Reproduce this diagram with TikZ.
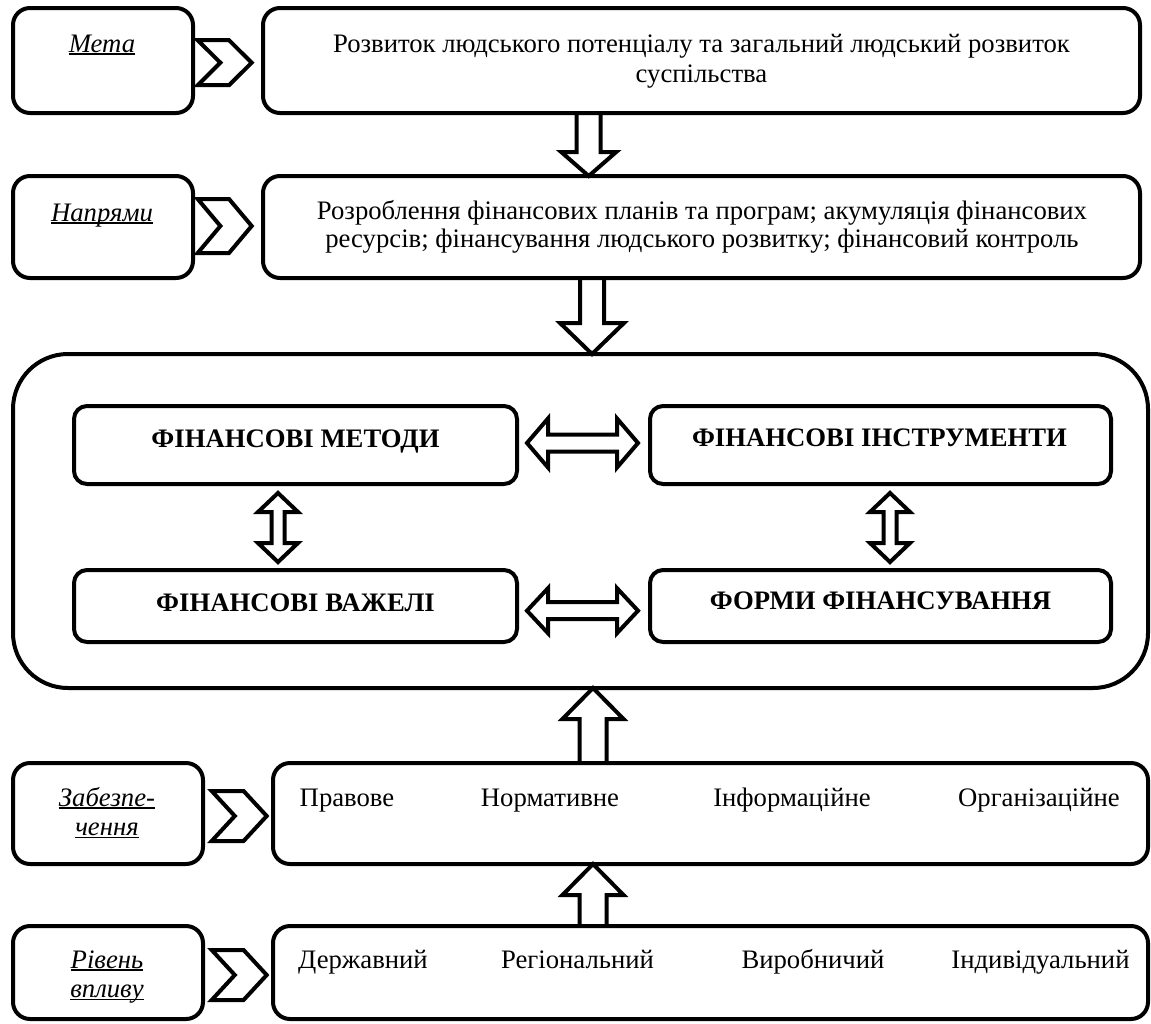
\documentclass[tikz,border=0pt]{standalone}
\usepackage{fontspec}
\setmainfont{Liberation Serif}
\usetikzlibrary{calc}
\newcommand\ulab[1]{\leavevmode\setbox0\hbox{#1}\rlap{\copy0}\rule[-0.11em]{\wd0}{0.07em}}
\tikzset{
  box/.style={draw, line width=4pt, rounded corners=17pt, inner sep=0pt, outer sep=0pt},
  inbox/.style={box, rounded corners=13pt},
  bigbox/.style={box, rounded corners=55pt},
  txt/.style={inner sep=0pt, anchor=base, align=center, font=\fontsize{26.7}{29.5}\selectfont},
  btxt/.style={txt, font=\fontsize{26.7}{29.5}\selectfont\bfseries},
  fat/.style={draw, line width=4pt, line join=miter},
  chevst/.style={draw, line width=4pt, line join=miter}
}
% vertical single hollow arrow: x, tail anchor, tip anchor, shaft half, head half, head length
\newcommand\vfat[6]{%
  \draw[fat] let \p1=(#2), \p2=(#3), \n1={sign(\y2-\y1)} in
    ({#1pt-#4pt},\y1) -- ({#1pt-#4pt},{\y2-(\n1)*#6pt}) -- ({#1pt-#5pt},{\y2-(\n1)*#6pt}) -- (#1pt,\y2)
    -- ({#1pt+#5pt},{\y2-(\n1)*#6pt}) -- ({#1pt+#4pt},{\y2-(\n1)*#6pt}) -- ({#1pt+#4pt},\y1);}
% horizontal double hollow arrow: y, left anchor, right anchor, gapL, gapR, shaft half, head half, head length
\newcommand\hdbl[8]{%
  \draw[fat] let \p1=(#2), \p2=(#3) in
    ({\x1+#4pt},{-#1pt}) -- ({\x1+#4pt+#8pt},{-#1pt+#7pt}) -- ({\x1+#4pt+#8pt},{-#1pt+#6pt})
    -- ({\x2-#5pt-#8pt},{-#1pt+#6pt}) -- ({\x2-#5pt-#8pt},{-#1pt+#7pt}) -- ({\x2-#5pt},{-#1pt})
    -- ({\x2-#5pt-#8pt},{-#1pt-#7pt}) -- ({\x2-#5pt-#8pt},{-#1pt-#6pt})
    -- ({\x1+#4pt+#8pt},{-#1pt-#6pt}) -- ({\x1+#4pt+#8pt},{-#1pt-#7pt}) -- cycle;}
% vertical double hollow arrow: x, top anchor, bottom anchor, gapT, gapB, shaft half, head half, head length
\newcommand\vdbl[8]{%
  \draw[fat] let \p1=(#2), \p2=(#3) in
    (#1pt,{\y1-#4pt}) -- ({#1pt+#7pt},{\y1-#4pt-#8pt}) -- ({#1pt+#6pt},{\y1-#4pt-#8pt})
    -- ({#1pt+#6pt},{\y2+#5pt+#8pt}) -- ({#1pt+#7pt},{\y2+#5pt+#8pt}) -- (#1pt,{\y2+#5pt})
    -- ({#1pt-#7pt},{\y2+#5pt+#8pt}) -- ({#1pt-#6pt},{\y2+#5pt+#8pt})
    -- ({#1pt-#6pt},{\y1-#4pt-#8pt}) -- ({#1pt-#7pt},{\y1-#4pt-#8pt}) -- cycle;}
% chevron: left x, centre y, width, height
\newcommand\chev[4]{%
  \draw[chevst] (#1,{#2-#4/2}) -- ({#1+0.58*#3},{#2-#4/2}) -- ({#1+#3},#2) -- ({#1+0.58*#3},{#2+#4/2})
    -- (#1,{#2+#4/2}) -- ({#1+0.42*#3},#2) -- cycle;}
\begin{document}
\begin{tikzpicture}[x=1pt,y=-1pt]
\useasboundingbox (0,0) rectangle (1151,1023);
% row 1
\node[box, minimum width=180pt, minimum height=105pt] (L1) at (103,60.5) {};
\node[box, minimum width=877pt, minimum height=105pt] (R1) at (701.5,60.5) {};
\node[txt] (tL1) at (102,52) {\itshape\ulab{Мета}};
\node[txt] (tR1) at (701.5,82) {Розвиток людського потенціалу та загальний людський розвиток\\суспільства};
\chev{197.7}{62.7}{54}{45}
% row 2
\node[box, minimum width=180pt, minimum height=102pt] (L2) at (103,227) {};
\node[box, minimum width=877pt, minimum height=102pt] (R2) at (701.5,227) {};
\node[txt] (tL2) at (102,221) {\itshape\ulab{Напрями}};
\node[txt, font=\fontsize{26.7}{28.5}\selectfont] (tR2) at (702,247.5) {Розроблення фінансових планів та програм; акумуляція фінансових\\ресурсів; фінансування людського розвитку; фінансовий контроль};
\chev{197.7}{226}{54}{54}
% big box
\node[bigbox, minimum width=1135pt, minimum height=334pt] (big) at (580.5,521) {};
\node[inbox, minimum width=443pt, minimum height=78pt] (A) at (295.5,445) {};
\node[inbox, minimum width=461pt, minimum height=78pt] (B) at (880.5,445) {};
\node[inbox, minimum width=443pt, minimum height=72pt] (C) at (295.5,606) {};
\node[inbox, minimum width=461pt, minimum height=72pt] (D) at (880.5,606) {};
\node[btxt] (tA) at (295.5,447) {ФІНАНСОВІ МЕТОДИ};
\node[btxt] (tB) at (879.5,446) {ФІНАНСОВІ ІНСТРУМЕНТИ};
\node[btxt] (tC) at (295.5,611) {ФІНАНСОВІ ВАЖЕЛІ};
\node[btxt] (tD) at (880.5,609) {ФОРМИ ФІНАНСУВАННЯ};
% row 3
\node[box, minimum width=190pt, minimum height=101pt] (L3) at (108,813.5) {};
\node[box, minimum width=875pt, minimum height=101pt] (R3) at (710.5,813.5) {};
\node[txt] (tL3) at (107,835.5) {\itshape\ulab{Забезпе-}\\\itshape\ulab{чення}};
\node[txt] (p1) at (347,806) {Правове};
\node[txt] (p2) at (550,806) {Нормативне};
\node[txt] (p3) at (792,806) {Інформаційне};
\node[txt] (p4) at (1039,806) {Організаційне};
\chev{211.7}{816}{55}{50}
% row 4
\node[box, minimum width=190pt, minimum height=93pt] (L4) at (108,972.5) {};
\node[box, minimum width=875pt, minimum height=93pt] (R4) at (710.5,972.5) {};
\node[txt] (tL4) at (107,997.5) {\itshape\ulab{Рівень}\\\itshape\ulab{впливу}};
\node[txt] (q1) at (363,968) {Державний};
\node[txt] (q2) at (577.5,968) {Регіональний};
\node[txt] (q3) at (813,968) {Виробничий};
\node[txt] (q4) at (1040.5,968) {Індивідуальний};
\chev{211.7}{975}{55}{50}
% connectors
\vfat{588.7}{R1.south}{R2.north}{12}{27.5}{24}
\vfat{592}{R2.south}{big.north}{12}{32}{31}
\vfat{593}{R3.north}{big.south}{13.5}{30.5}{31}
\vfat{593}{R4.north}{R3.south}{13.5}{30.5}{31}
\hdbl{443}{A.east}{B.west}{10}{12}{8.5}{24.5}{21}
\hdbl{610.7}{C.east}{D.west}{10}{12}{8.5}{22.5}{21}
\vdbl{278}{A.south}{C.north}{9}{8}{6.5}{20}{19}
\vdbl{890}{B.south}{D.north}{9}{8}{6.5}{20}{19}
\end{tikzpicture}
\end{document}
